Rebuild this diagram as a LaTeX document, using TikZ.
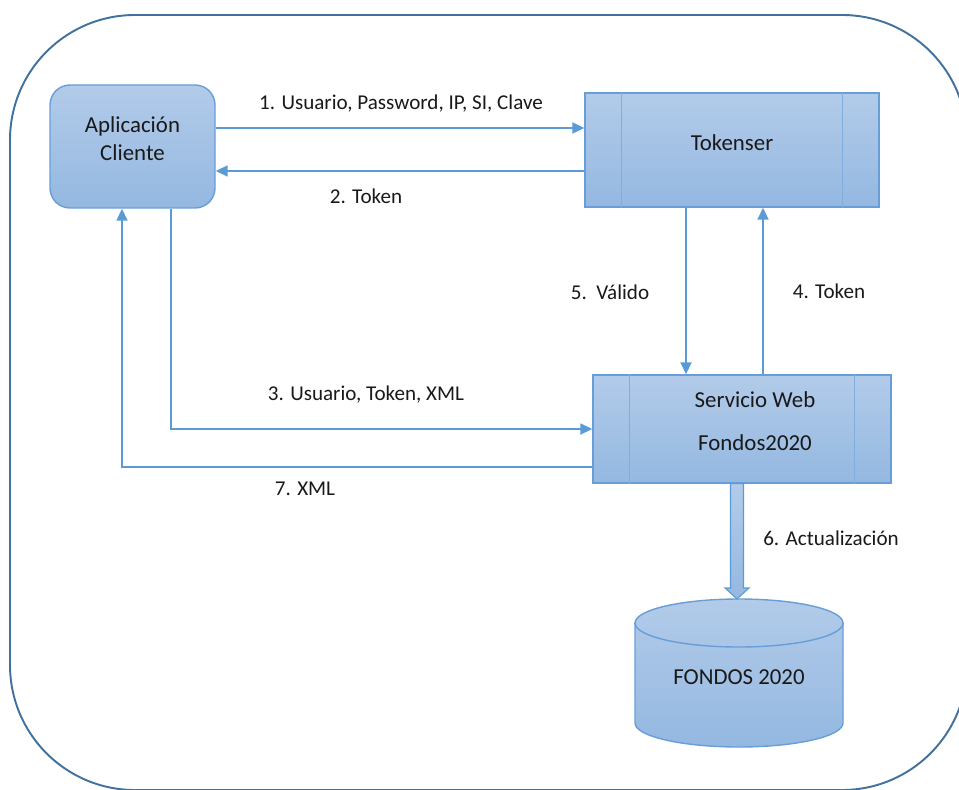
\documentclass[tikz,border=0pt]{standalone}
\usepackage{fontspec}
\setmainfont{Carlito}
\usetikzlibrary{positioning,calc,arrows.meta}

\definecolor{boxtop}{RGB}{178,203,233}
\definecolor{boxbot}{RGB}{148,184,225}
\definecolor{boxline}{RGB}{104,158,216}
\definecolor{arrowblue}{RGB}{91,155,213}
\definecolor{framecol}{RGB}{65,113,156}

\tikzset{
  appbox/.style={draw=boxline, line width=0.8pt, rounded corners=0.4cm,
    top color=boxtop, bottom color=boxbot,
    minimum width=3.3cm, minimum height=2.46cm},
  procbox/.style={draw=boxline, line width=0.8pt, top color=boxtop,
    bottom color=boxbot},
  boxtext/.style={font=\fontsize{13}{16}\selectfont, align=center, text=black!90},
  subline/.style={draw=boxline!85, line width=0.6pt},
  lbl/.style={font=\fontsize{12}{14}\selectfont, text=black!90},
  msg/.style={draw=arrowblue, line width=1pt, -{Triangle[length=2.4mm,width=2.2mm]}},
}

\begin{document}
\begin{tikzpicture}
    \useasboundingbox (0,0) rectangle (19.18,15.78);
    \clip (0,0) rectangle (19.18,15.78);

    % Outer frame
    \draw [framecol, line width=1.1pt, rounded corners=2.5cm] (0.2,-0.02) rectangle (19.34,15.48);

    % Components
    \node [appbox] (app) at (2.65,12.85) {};
    \node [boxtext] (apptxt) at (2.65,13.0) {Aplicación\\Cliente};
    \node [procbox, minimum width=5.88cm, minimum height=2.28cm] (tok) at (14.64,12.78) {};
    \node [boxtext] (toktxt) at (14.64,12.92) {Tokenser};
    \node [procbox, minimum width=5.96cm, minimum height=2.16cm] (ws) at (14.84,7.2) {};
    \node [boxtext] (wstxt) at (15.1,7.35) {Servicio Web\\[8.4pt]Fondos2020};

    % Side bars of the process boxes
    \foreach \b in {tok,ws} {
        \draw [subline] ([xshift=0.74cm]\b.north west) -- ([xshift=0.74cm]\b.south west);
        \draw [subline] ([xshift=-0.74cm]\b.north east) -- ([xshift=-0.74cm]\b.south east);
    }

    % Database
    \coordinate (dbtop) at (14.78,3.8);
    \shade [top color=boxtop, bottom color=boxbot, draw=boxline, line width=0.8pt]
        (12.7,3.32) -- (12.7,1.32) arc [start angle=180, end angle=360, x radius=2.08cm, y radius=0.48cm]
        -- (16.86,3.32) arc [start angle=0, end angle=180, x radius=2.08cm, y radius=0.48cm] -- cycle;
    \draw [boxline, line width=0.8pt] (12.7,3.32) arc [start angle=180, end angle=360, x radius=2.08cm, y radius=0.48cm];
    \node [boxtext] (db) at (14.78,2.24) {FONDOS 2020};

    % Messages
    \draw [msg] ([yshift=0.37cm]app.east) -- ([yshift=0.37cm]app.east -| tok.west);
    \draw [msg] ([yshift=-0.49cm]app.east -| tok.west) -- ([yshift=-0.49cm]app.east);
    \draw [msg] ([xshift=0.77cm]app.south) |- (ws.west);
    \draw [msg] ([xshift=0.62cm]tok.south |- ws.north) -- ([xshift=0.62cm]tok.south);
    \draw [msg] ([xshift=-0.92cm]tok.south) -- ([xshift=-0.92cm]tok.south |- ws.north);
    \draw [msg] ([yshift=-0.76cm]ws.west) -| ([xshift=-0.21cm]app.south);

    % Update arrow
    \coordinate (fa) at ([xshift=-0.1cm]ws.south);
    \coordinate (fb) at (fa |- dbtop);
    \shade [top color=boxtop, bottom color=boxbot, draw=arrowblue, line width=0.6pt]
        ($(fa)+(-0.13,0)$) -- ($(fb)+(-0.13,0.22)$) -- ($(fb)+(-0.24,0.22)$) -- (fb)
        -- ($(fb)+(0.24,0.22)$) -- ($(fb)+(0.13,0.22)$) -- ($(fa)+(0.13,0)$) -- cycle;

    % Labels
    \node [lbl] (l1) at (8.02,13.7) {1. Usuario, Password, IP, SI, Clave};
    \node [lbl] (l2) at (7.32,11.86) {2. Token};
    \node [lbl] (l3) at (7.32,7.88) {3. Usuario, Token, XML};
    \node [lbl] (l4) at (16.58,9.96) {4. Token};
    \node [lbl] (l5) at (12.2,9.94) {5.\ \ Válido};
    \node [lbl] (l6) at (16.62,5.02) {6. Actualización};
    \node [lbl] (l7) at (6.1,6.0) {7. XML};
\end{tikzpicture}
\end{document}
